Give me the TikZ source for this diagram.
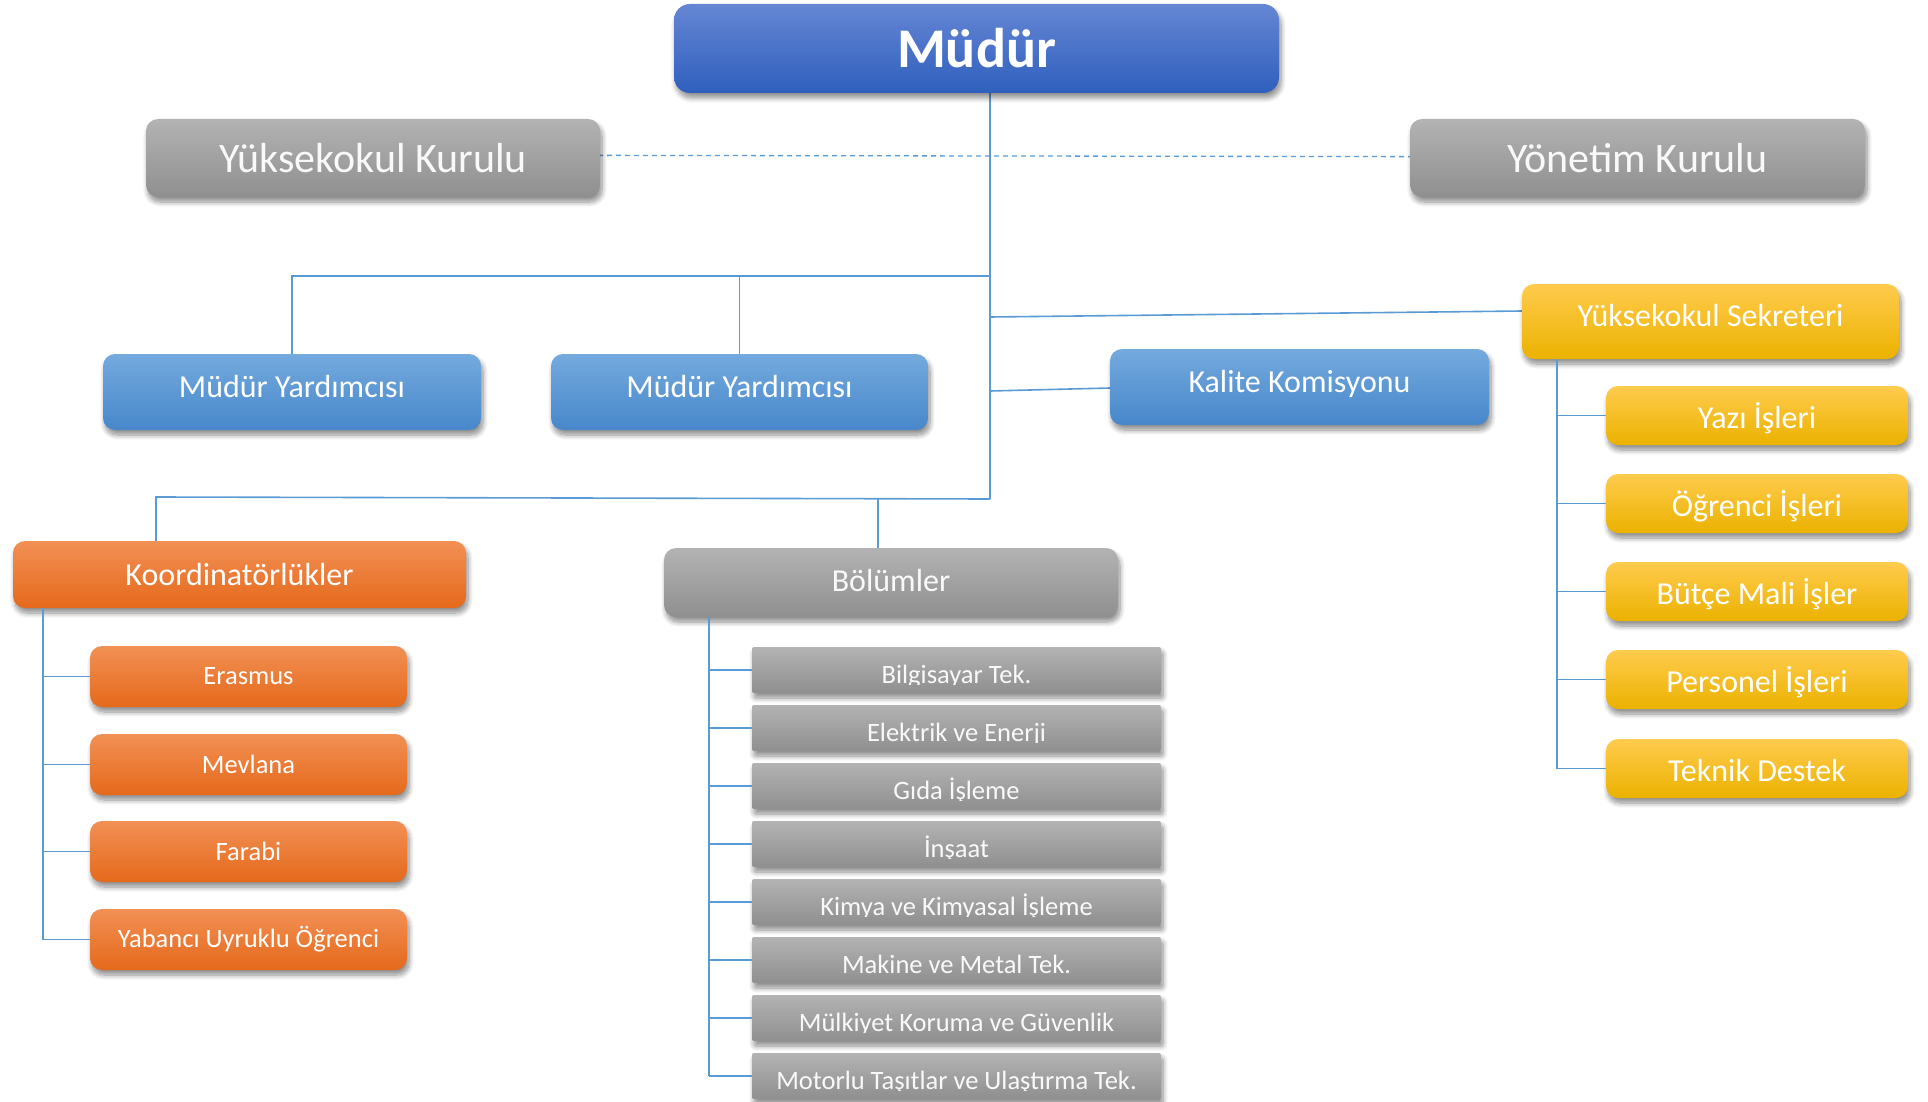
\documentclass[tikz,border=0pt]{standalone}
\usepackage{fontspec}
\setmainfont{Carlito}
\usetikzlibrary{shadows,shadows.blur,calc}
\definecolor{ln}{HTML}{5B9BD5}
\definecolor{bluetop}{HTML}{6586D4}
\definecolor{bluebot}{HTML}{2F5FBD}
\definecolor{mbtop}{HTML}{74AADE}
\definecolor{mbbot}{HTML}{4787CA}
\definecolor{graytop}{HTML}{B3B3B3}
\definecolor{graybot}{HTML}{8F8F8F}
\definecolor{ortop}{HTML}{F29055}
\definecolor{ormid}{HTML}{F27C2A}
\definecolor{orbot}{HTML}{E5691B}
\definecolor{yetop}{HTML}{FFCB4D}
\definecolor{yemid}{HTML}{FFC304}
\definecolor{yebot}{HTML}{EBB200}
\begin{document}
\begin{tikzpicture}[x=1pt,y=-1pt,
  base/.style={rectangle, rounded corners=12pt, text=white, align=center, inner sep=0pt,
    blur shadow={shadow xshift=2pt, shadow yshift=-5pt, shadow blur radius=5pt, shadow blur steps=8, shadow opacity=45}},
  mudurbox/.style={base, rounded corners=16pt, top color=bluetop, bottom color=bluebot,
    minimum width=605pt, minimum height=89pt, font=\fontsize{56}{60}\selectfont\bfseries},
  kurulbox/.style={base, top color=graytop, bottom color=graybot,
    minimum width=454pt, minimum height=78pt, text=white!95!gray, font=\fontsize{42}{46}\selectfont},
  midbox/.style={base, top color=mbtop, bottom color=mbbot,
    minimum width=378pt, minimum height=76pt, text height=22pt, text depth=11.4pt,
    font=\fontsize{32}{36}\selectfont},
  sekbox/.style={base, top color=yetop, middle color=yemid, bottom color=yebot,
    minimum width=377pt, minimum height=75pt, text height=22pt, text depth=11.4pt,
    font=\fontsize{32}{36}\selectfont},
  yekid/.style={base, top color=yetop, middle color=yemid, bottom color=yebot,
    minimum width=302pt, minimum height=59pt, text height=26pt, text depth=0.8pt,
    font=\fontsize{32}{36}\selectfont},
  koordbox/.style={base, top color=ortop, middle color=ormid, bottom color=orbot,
    minimum width=453pt, minimum height=67pt, font=\fontsize{32}{36}\selectfont},
  orkid/.style={base, top color=ortop, middle color=ormid, bottom color=orbot,
    minimum width=317pt, minimum height=61pt, font=\fontsize{26.5}{30}\selectfont},
  bolbox/.style={base, top color=graytop, bottom color=graybot,
    minimum width=454pt, minimum height=69pt, text height=22pt, text depth=4pt,
    text=white!95!gray, font=\fontsize{32}{36}\selectfont},
  listbox/.style={base, rounded corners=2pt, top color=graytop, bottom color=graybot,
    minimum width=409pt, minimum height=46pt},
  listtext/.style={text=white!95!gray, inner sep=0pt, font=\fontsize{26.5}{30}\selectfont},
  conn/.style={draw=ln, line width=1.6pt},
  dconn/.style={draw=ln, line width=1.3pt, dash pattern=on 5pt off 4pt}
]
\useasboundingbox (0,0) rectangle (1928,1102);

% junction coordinates
\coordinate (jb) at (990,499);
\coordinate (j1) at (990,276);
\coordinate (kj) at (156,497);
\coordinate (bj) at (878,499);
\coordinate (kt) at (43,0);
\coordinate (st) at (1557,0);
\coordinate (bt) at (709,0);
\coordinate (js) at (990,317);
\coordinate (sw) at (1522,311);
\coordinate (jk) at (990,391);
\coordinate (kw) at (1110,388);

% connectors (drawn first, under boxes)
\draw[dconn] (373,155) coordinate (dk) -- (1637,157) coordinate (dy);
\draw[conn] (990,93) coordinate (mb) -- (jb);
\draw[conn] (292,354) coordinate (m1t) |- (j1);
\draw[conn] (739.5,354) coordinate (m2t) -- (m2t |- j1);
\draw[conn] (sw) -- (js);
\draw[conn] (kw) -- (jk);
\draw[conn] (jb) -- (kj) -- (156,541);
\draw[conn] (bj) -- (878,548);

% main nodes
\node[mudurbox] (mudur) at (976.5,48.5) {Müdür};
\node[kurulbox] (yk) at (373,158) {Yüksekokul Kurulu};
\node[kurulbox, minimum width=455pt] (yon) at (1637.5,158) {Yönetim Kurulu};
\node[midbox] (my1) at (292,392) {Müdür Yardımcısı};
\node[midbox, minimum width=377pt] (my2) at (739.5,392) {Müdür Yardımcısı};
\node[midbox, minimum width=379pt] (kal) at (1299.5,387) {Kalite Komisyonu};
\node[sekbox] (sek) at (1710.5,321.5) {Yüksekokul Sekreteri};
\node[koordbox] (koord) at (239.5,574.5) {Koordinatörlükler};
\node[bolbox] (bol) at (891,582.5) {Bölümler};

% secretary children
\node[yekid] (y1) at (1757,415.5) {Yazı İşleri};
\node[yekid] (y2) at (1757,503.5) {Öğrenci İşleri};
\node[yekid] (y3) at (1757,591.5) {Bütçe Mali İşler};
\node[yekid] (y4) at (1757,679.5) {Personel İşleri};
\node[yekid] (y5) at (1757,768.5) {Teknik Destek};
\draw[conn] (sek.south -| st) -- (st |- y5.west);
\foreach \n in {y1,y2,y3,y4,y5} {\draw[conn] (st |- \n.west) -- (\n.west);}

% coordinator children
\node[orkid] (o1) at (248.5,676.5) {Erasmus};
\node[orkid] (o2) at (248.5,764.5) {Mevlana};
\node[orkid] (o3) at (248.5,851.5) {Farabi};
\node[orkid] (o4) at (248.5,939.5) {Yabancı Uyruklu Öğrenci};
\draw[conn] (koord.south -| kt) -- (kt |- o4.west);
\foreach \n in {o1,o2,o3,o4} {\draw[conn] (kt |- \n.west) -- (\n.west);}

% departments
\foreach \t [count=\i from 0] in {Bilgisayar Tek.,Elektrik ve Enerji,Gıda İşleme,İnşaat,Kimya ve Kimyasal İşleme,Makine ve Metal Tek.,Mülkiyet Koruma ve Güvenlik,Motorlu Taşıtlar ve Ulaştırma Tek.} {
  \node[listbox] (b\i) at (956.5,{670+58*\i}) {};
  \begin{scope}
    \clip ([yshift=9pt]b\i.south west) rectangle (b\i.north east);
    \node[listtext, anchor=base] at ([yshift=10pt]b\i.south) {\t};
  \end{scope}
  \draw[conn] (bt |- b\i.west) -- (b\i.west);
}
\draw[conn] (bol.south -| bt) -- (bt |- b7.west);
\end{tikzpicture}
\end{document}
